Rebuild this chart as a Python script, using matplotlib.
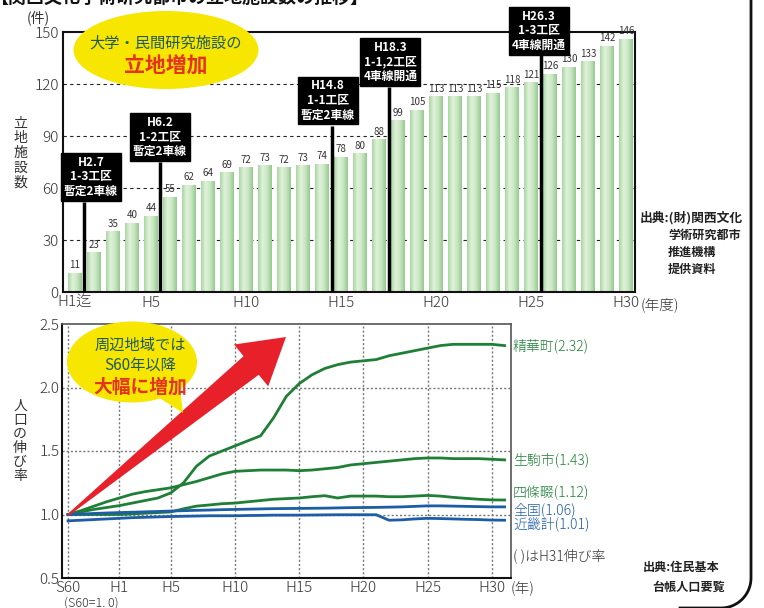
import numpy as np
import matplotlib
matplotlib.use('Agg')
import matplotlib.pyplot as plt
from matplotlib.patches import Ellipse, Polygon
from matplotlib.lines import Line2D
from matplotlib.colors import LinearSegmentedColormap

plt.rcParams['font.family'] = ['Noto Sans CJK JP', 'DejaVu Sans']

# ---- data: facilities (top chart)
fac_ticks = ['H1迄', 'H5', 'H10', 'H15', 'H20', 'H25', 'H30']
fac_tick_idx = [0, 4, 9, 14, 19, 24, 29]
facilities = [11, 23, 35, 40, 44, 55, 62, 64, 69, 72, 73, 72, 73, 74, 78,
              80, 88, 99, 105, 113, 113, 113, 115, 118, 121, 126, 130, 133, 142, 146]
events = ['H2.7\n1-3工区\n暫定2車線', 'H6.2\n1-2工区\n暫定2車線', 'H14.8\n1-1工区\n暫定2車線',
          'H18.3\n1-1,2工区\n4車線開通', 'H26.3\n1-3工区\n4車線開通']
event_x = [0.5, 4.5, 13.5, 16.5, 24.5]

# ---- data: population growth (bottom chart), S60 .. H31
pop_ticks = ['S60', 'H1', 'H5', 'H10', 'H15', 'H20', 'H25', 'H30']
pop_tick_idx = [0, 4, 8, 13, 18, 23, 28, 33]
years = list(range(35))
seika = [1.00, 1.02, 1.04, 1.055, 1.07, 1.09, 1.11, 1.13, 1.17, 1.25, 1.38, 1.46, 1.50, 1.54, 1.58,
         1.62, 1.76, 1.93, 2.03, 2.10, 2.15, 2.18, 2.20, 2.21, 2.22, 2.25, 2.27, 2.29, 2.31, 2.33,
         2.34, 2.34, 2.34, 2.34, 2.33]
ikoma = [1.00, 1.03, 1.065, 1.10, 1.13, 1.16, 1.18, 1.195, 1.21, 1.235, 1.26, 1.29, 1.32, 1.34, 1.345,
         1.35, 1.35, 1.35, 1.345, 1.35, 1.36, 1.37, 1.39, 1.40, 1.41, 1.42, 1.43, 1.44, 1.445, 1.445,
         1.44, 1.44, 1.44, 1.435, 1.43]
shijo = [1.00, 1.00, 1.00, 1.00, 1.00, 1.005, 1.01, 1.015, 1.02, 1.045, 1.066, 1.075, 1.085, 1.09, 1.10,
         1.11, 1.12, 1.125, 1.13, 1.14, 1.148, 1.13, 1.145, 1.145, 1.145, 1.14, 1.14, 1.145, 1.15, 1.145,
         1.135, 1.127, 1.12, 1.115, 1.114]
national = [1.00, 1.004, 1.008, 1.012, 1.015, 1.018, 1.021, 1.024, 1.027, 1.03, 1.033, 1.035, 1.038, 1.04,
            1.042, 1.044, 1.046, 1.047, 1.048, 1.049, 1.05, 1.052, 1.054, 1.055, 1.056, 1.058, 1.06, 1.064,
            1.068, 1.068, 1.066, 1.064, 1.062, 1.06, 1.06]
kinki = [0.95, 0.955, 0.96, 0.965, 0.97, 0.975, 0.978, 0.981, 0.984, 0.986, 0.988, 0.99, 0.99, 0.99, 0.992,
         0.993, 0.995, 0.995, 0.995, 0.996, 0.997, 0.998, 0.998, 0.998, 0.998, 0.955, 0.958, 0.965, 0.97,
         0.968, 0.965, 0.962, 0.96, 0.956, 0.955]
series_names = ['精華町(2.32)', '生駒市(1.43)', '四條畷(1.12)', '全国(1.06)', '近畿計(1.01)']

GREEN = '#1f7f36'
BLUE = '#1d5ca6'
W, H = 764, 608


def fx(px):
    return px / W


def fy(py):
    return 1 - py / H


fig = plt.figure(figsize=(7.64, 6.08), dpi=100)

# ================= top chart
ax = fig.add_axes([fx(63), fy(292), 572 / W, 260 / H])
n = len(facilities)
xs = np.arange(n)
bars = ax.bar(xs, facilities, width=0.72, color='none', edgecolor='none', zorder=2)
cmap = LinearSegmentedColormap.from_list('bar', ['#a9d6a2', '#e0f2db', '#c8e6c1', '#97c990'])
grad = np.linspace(0, 1, 64).reshape(1, -1)
for b in bars:
    im = ax.imshow(grad, extent=[b.get_x(), b.get_x() + b.get_width(), 0, b.get_height()],
                   aspect='auto', cmap=cmap, zorder=2)
    im.set_clip_path(b)
for x, v in zip(xs, facilities):
    ax.text(x, v + 1.5, str(v), ha='center', va='bottom', fontsize=7, color='#333333', zorder=3)

ax.set_xlim(-0.63, 29.47)
ax.set_ylim(0, 150)
ax.set_yticks([0, 30, 60, 90, 120, 150])
ax.set_xticks(fac_tick_idx)
ax.set_xticklabels(fac_ticks)
ax.tick_params(length=0, labelsize=11, colors='#333333', pad=3)
for lab in ax.get_xticklabels() + ax.get_yticklabels():
    lab.set_fontweight('light')
for y in [30, 60, 90, 120]:
    ax.axhline(y, color='#222222', lw=0.8, ls=(0, (3, 3)), zorder=1)
for s in ax.spines.values():
    s.set_linewidth(1.5)
    s.set_color('#111111')

box_pos = [(0.84, 66.6), (4.47, 89.4), (13.3, 110.5), (16.6, 132.7), (24.4, 150.6)]
line_top = [51.9, 75, 95.8, 118.3, 136.7]
for lab, ex, (bx, by), top in zip(events, event_x, box_pos, line_top):
    ax.plot([ex, ex], [0, top], color='black', lw=2.5, zorder=4, solid_capstyle='butt')
    ax.text(bx, by, lab, ha='center', va='center', color='white', fontsize=8.5, fontweight='bold',
            linespacing=1.15, zorder=5, clip_on=False,
            bbox=dict(boxstyle='square,pad=0.25', fc='black', ec='black'))

fig.text(fx(38), fy(18), '(件)', ha='center', va='center', fontsize=10, color='#333333')
fig.text(fx(20), fy(153), '\n'.join('立地施設数'), ha='center', va='center', fontsize=10,
         color='#333333', linespacing=1.05)
fig.text(fx(641), fy(305), '(年度)', ha='left', va='center', fontsize=10.5, color='#333333',
         fontweight='light')
fig.text(fx(640), fy(218), '出典:(財)関西文化', ha='left', va='center', fontsize=9.2,
         fontweight='bold', color='#222222')
for i, t in enumerate(['学術研究都市', '推進機構', '提供資料']):
    fig.text(fx(668), fy(235 + 17 * i), t, ha='left', va='center', fontsize=8.7,
             fontweight='bold', color='#222222')

fig.add_artist(Ellipse((fx(166), fy(50)), 185 / W, 78 / H, transform=fig.transFigure,
                       fc='#f7e600', ec='none', zorder=6))
fig.text(fx(166), fy(43), '大学・民間研究施設の', ha='center', va='center', fontsize=11,
         color='#1f5a56', zorder=7)
fig.text(fx(166), fy(66), '立地増加', ha='center', va='center', fontsize=15, fontweight='bold',
         color='#e4321f', zorder=7)

# partial title at the top edge
fig.text(fx(-10), fy(-2), '【関西文化学術研究都市の立地施設数の推移】', ha='left', va='center',
         fontsize=13, fontweight='bold', color='#111111')

# ================= bottom chart
ax2 = fig.add_axes([fx(62), fy(578), 449 / W, 254 / H])
ax2.set_xlim(-0.47, 34.5)
ax2.set_ylim(0.5, 2.5)
for y in [1.0, 1.5, 2.0]:
    ax2.axhline(y, color='#777777', lw=1, ls=(0, (1.5, 1.5)), zorder=1)
for x in pop_tick_idx:
    ax2.axvline(x, color='#777777', lw=1, ls=(0, (1.5, 1.5)), zorder=1)

# red arrow
tail = np.array([68.0, 515.0])
tip = np.array([286.0, 337.0])
u = (tip - tail) / np.linalg.norm(tip - tail)
nv = np.array([-u[1], u[0]])
base = tip - 45 * u
pts = [tail + 1 * nv, base + 12 * nv, base + 27 * nv, tip, base - 27 * nv, base - 12 * nv, tail - 1 * nv]
fig.add_artist(Polygon([(fx(p[0]), fy(p[1])) for p in pts], closed=True, transform=fig.transFigure,
                       fc='#e8202a', ec='none', zorder=3))

series = [seika, ikoma, shijo, national, kinki]
colors = [GREEN, GREEN, GREEN, BLUE, BLUE]
label_y = [2.325, 1.43, 1.17, 1.035, 0.925]
for vals, c, name, ly in zip(series, colors, series_names, label_y):
    ax2.plot(years, vals, color=c, lw=2, zorder=4)
    ax2.text(34.65, ly, name, ha='left', va='center', fontsize=10, color=c, clip_on=False,
             fontweight='light')
ax2.text(34.65, 0.675, '( )はH31伸び率', ha='left', va='center', fontsize=10, color='#333333',
         fontweight='light')

ax2.set_xticks(pop_tick_idx)
ax2.set_xticklabels(pop_ticks)
ax2.set_yticks([0.5, 1.0, 1.5, 2.0, 2.5])
ax2.set_yticklabels(['0.5', '1.0', '1.5', '2.0', '2.5'])
ax2.tick_params(length=0, labelsize=11, colors='#333333', pad=2)
for lab in ax2.get_xticklabels() + ax2.get_yticklabels():
    lab.set_fontweight('light')
for k, s in ax2.spines.items():
    if k in ('left', 'bottom'):
        s.set_linewidth(1.5)
        s.set_color('#111111')
    else:
        s.set_linewidth(1.2)
        s.set_color('#555555')

fig.text(fx(523), fy(589), '(年)', ha='center', va='center', fontsize=10.5, color='#333333',
         fontweight='light')
fig.text(fx(91), fy(603), '(S60=1. 0)', ha='center', va='center', fontsize=9, color='#333333',
         fontweight='light')
fig.text(fx(20), fy(441), '\n'.join('人口の伸び率'), ha='center', va='center', fontsize=10,
         color='#333333', linespacing=1.0)
fig.text(fx(643), fy(567), '出典:住民基本', ha='left', va='center', fontsize=8.7,
         fontweight='bold', color='#222222')
fig.text(fx(652), fy(587), '台帳人口要覧', ha='left', va='center', fontsize=8.7,
         fontweight='bold', color='#222222')

# speech bubble
fig.add_artist(Polygon([(fx(158), fy(397)), (fx(180), fy(388)), (fx(183), fy(413))], closed=True,
                       transform=fig.transFigure, fc='#f7e600', ec='none', zorder=6))
fig.add_artist(Ellipse((fx(132), fy(362)), 130 / W, 81 / H, transform=fig.transFigure,
                       fc='#f7e600', ec='none', zorder=6))
fig.text(fx(140), fy(345), '周辺地域では', ha='center', va='center', fontsize=11,
         color='#1f5a56', zorder=7)
fig.text(fx(140), fy(366), 'S60年以降', ha='center', va='center', fontsize=11,
         color='#1f5a56', zorder=7)
fig.text(fx(140), fy(387), '大幅に増加', ha='center', va='center', fontsize=13.5, fontweight='bold',
         color='#e4321f', zorder=7)

# frame on the right with rounded corner
ang = np.linspace(0, np.pi / 2, 20)
fx_pts = [751, 751] + list(721 + 30 * np.cos(ang)) + [680]
fy_pts = [-5, 578] + list(578 + 30 * np.sin(ang)) + [608]
fig.add_artist(Line2D([fx(p) for p in fx_pts], [fy(p) for p in fy_pts], transform=fig.transFigure,
                      color='#111111', lw=2))

fig.savefig('out.png', dpi=100)
